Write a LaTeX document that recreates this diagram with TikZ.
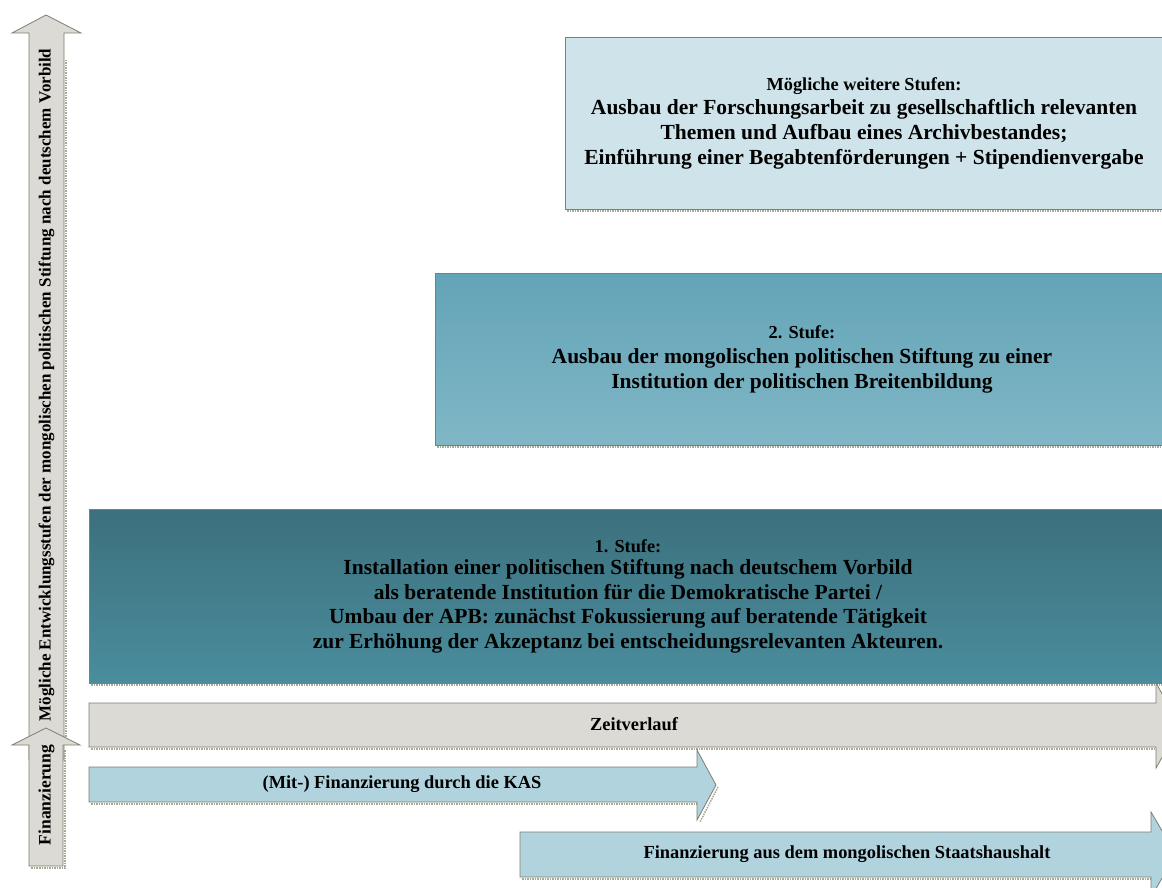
\documentclass[tikz,border=0pt]{standalone}
\usepackage{fontspec}
\setmainfont{Liberation Serif}
\definecolor{topbox}{HTML}{CFE3EA}
\definecolor{twotop}{HTML}{63A4B7}
\definecolor{twobot}{HTML}{80B7C6}
\definecolor{onetop}{HTML}{3C707D}
\definecolor{onebot}{HTML}{4A8D9D}
\definecolor{greyarrow}{HTML}{DCDAD4}
\definecolor{bluearrow}{HTML}{B0D3DD}
\definecolor{edge}{HTML}{7E7E72}
\definecolor{shadowc}{HTML}{A9A995}
\tikzset{
  x=1pt, y=-1pt,
  stagebox/.style={draw=edge, line width=0.8pt, minimum height=#1, inner sep=0pt, align=center,
     font=\bfseries\fontsize{21.5}{25}\selectfont},
  shadowline/.style={draw=shadowc, line width=1.5pt, dash pattern=on 1.5pt off 1pt},
  label/.style={font=\bfseries\fontsize{18.4}{21}\selectfont, inner sep=0pt},
  vlabel/.style={font=\bfseries\fontsize{17}{20}\selectfont, inner sep=0pt, rotate=90},
}
\newcommand{\smallhead}[1]{{\fontsize{18.3}{21}\selectfont #1}}
\begin{document}
\begin{tikzpicture}
\useasboundingbox (0,0) rectangle (1162,888);
\clip (0,0) rectangle (1162,888);
\fill[white] (0,0) rectangle (1162,888);

% left vertical arrows
\draw[shadowline] (66,60) -- (66,745);
\draw[shadowline] (65,750) -- (65,868) -- (31,868);
\fill[greyarrow, draw=edge, line width=0.8pt]
  (29,760) -- (29,33) -- (12,33) -- (46,15) -- (81,33) -- (64,33) -- (64,760) -- cycle;
\fill[greyarrow, draw=edge, line width=0.8pt]
  (29,866) -- (29,745) -- (12,745) -- (46,728) -- (80,745) -- (63,745) -- (63,866) -- cycle;
\node[vlabel] (vtext) at (46.5,385) {Mögliche Entwicklungsstufen der mongolischen politischen Stiftung nach deutschem Vorbild};
\node[vlabel, font=\bfseries\fontsize{17.5}{20}\selectfont] (fintext) at (46.5,795) {Finanzierung};

% stage boxes with shadows
\draw[shadowline] (567,211) -- (1162,211);
\draw[shadowline] (437,447) -- (1162,447);
\draw[shadowline] (91,685) -- (1162,685);

\node[stagebox=172pt, minimum width=598pt, fill=topbox] (stagemore) at (864,123)
  {\smallhead{Mögliche weitere Stufen:}\\[-1pt]
   Ausbau der Forschungsarbeit zu gesellschaftlich relevanten\\
   Themen und Aufbau eines Archivbestandes;\\
   Einführung einer Begabtenförderungen + Stipendienvergabe};

\node[stagebox=172pt, minimum width=734pt, top color=twotop, bottom color=twobot, draw=edge] (stagetwo) at (802,359)
  {\smallhead{2. Stufe:}\\
   Ausbau der mongolischen politischen Stiftung zu einer\\
   Institution der politischen Breitenbildung};

\node[stagebox=174pt, minimum width=1078pt, top color=onetop, bottom color=onebot, draw=edge,
      font=\bfseries\fontsize{21.5}{24.5}\selectfont] (stageone) at (628,596)
  {\smallhead{1. Stufe:}\\[-2pt]
   Installation einer politischen Stiftung nach deutschem Vorbild\\
   als beratende Institution für die Demokratische Partei /\\
   Umbau der APB: zunächst Fokussierung auf beratende Tätigkeit\\
   zur Erhöhung der Akzeptanz bei entscheidungsrelevanten Akteuren.};

% Zeitverlauf arrow
\draw[shadowline] (91,749) -- (1157,749);
\fill[greyarrow, draw=edge, line width=0.8pt]
  (89,703) -- (1156,703) -- (1156,683) -- (1180,725.5) -- (1156,768) -- (1156,747) -- (89,747) -- cycle;
\node[label] (zeit) at (634,724) {Zeitverlauf};

% KAS arrow
\draw[shadowline] (91,804) -- (698,804);
\draw[shadowline] (718,787) -- (700,822);
\fill[bluearrow, draw=edge, line width=0.8pt]
  (89,767) -- (697,767) -- (697,750) -- (716,785) -- (697,820) -- (697,802) -- (89,802) -- cycle;
\node[label] (kas) at (402,784) {(Mit-) Finanzierung durch die KAS};

% Staatshaushalt arrow
\draw[shadowline] (522,879) -- (1152,879);
\fill[bluearrow, draw=edge, line width=0.8pt]
  (520,832) -- (1151,832) -- (1151,812) -- (1176,854.5) -- (1151,897) -- (1151,877) -- (520,877) -- cycle;
\node[label] (staat) at (847,854) {Finanzierung aus dem mongolischen Staatshaushalt};
\end{tikzpicture}
\end{document}
